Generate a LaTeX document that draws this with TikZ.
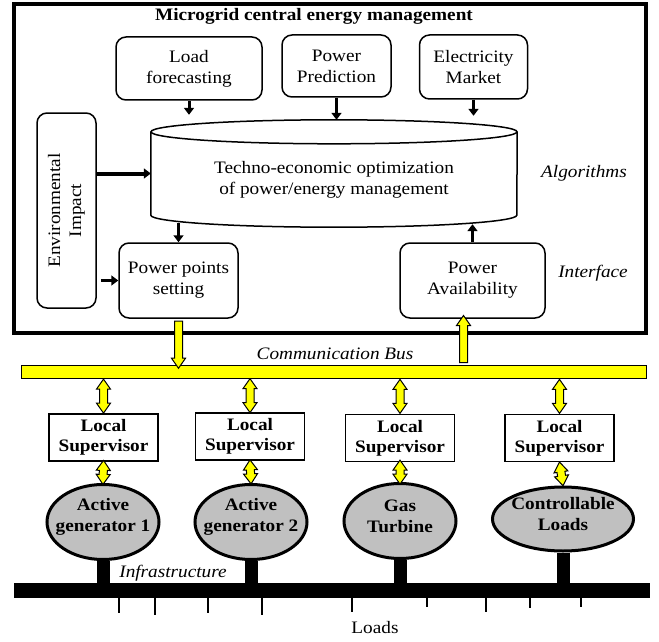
\documentclass[tikz,border=0pt]{standalone}
\usepackage{fontspec}
\setmainfont{Liberation Serif}[FakeStretch=1.1]
\usetikzlibrary{shapes.geometric,shapes.arrows,arrows.meta}
\definecolor{busyellow}{RGB}{255,255,0}
\definecolor{gengray}{RGB}{192,192,192}
\newcommand{\fs}{\fontsize{17.5}{21}\selectfont}
\tikzset{
  blk/.style={draw, line width=1.5pt, rounded corners=10pt, align=center, font=\fs},
  sup/.style={draw, line width=1.5pt, align=center, font=\fontsize{17.5}{20}\selectfont\bfseries,
    minimum width=109pt, minimum height=47pt, inner sep=0pt},
  gen/.style={ellipse, draw, line width=3pt, fill=gengray, minimum width=112pt,
    minimum height=75pt, inner sep=0pt},
  genlbl/.style={align=center, yshift=5pt, font=\fs\bfseries},
  lbl/.style={font=\fs\itshape},
  arr/.style={line width=3pt, -{Triangle[length=7pt,width=10pt]}},
  yarr/.style={single arrow, draw, fill=busyellow, line width=1pt, inner sep=3.5pt,
    single arrow head extend=3pt, single arrow tip angle=70, sloped},
  ydbl/.style={double arrow, draw, fill=busyellow, line width=1pt, inner sep=3.5pt,
    double arrow head extend=3pt, double arrow tip angle=70, sloped},
  stem/.style={line width=13pt},
}
\begin{document}
\begin{tikzpicture}[x=1pt, y=-1pt]
\useasboundingbox (0,0) rectangle (659,642);
% central energy management
\node[draw, line width=4pt, minimum width=632pt, minimum height=329pt] (ems) at (330,168.5) {};
\node[font=\fs\bfseries] (title) at (314,16) {Microgrid central energy management};
\node[blk, minimum width=146pt, minimum height=63pt] (lf) at (189,68.5) {Load\\forecasting};
\node[blk, minimum width=109pt, minimum height=62pt] (pp) at (336.5,66) {Power\\Prediction};
\node[blk, minimum width=108pt, minimum height=64pt] (em) at (473.5,67) {Electricity\\Market};
\node[blk, rotate=90, minimum width=195pt, minimum height=59pt] (env) at (66.5,210.5) {Environmental\\Impact};
\node[blk, minimum width=119pt, minimum height=75pt] (pps) at (178.5,280.5) {Power points\\setting};
\node[blk, minimum width=145pt, minimum height=75pt] (pa) at (472.5,280.5) {Power\\Availability};
\node[lbl] (algo) at (584,173) {Algorithms};
\node[lbl] (intf) at (593,273) {Interface};

% optimization cylinder
\node[minimum width=366pt, minimum height=107pt, inner sep=0pt,
  label={[align=center, yshift=-6pt, font=\fs]center:Techno-economic optimization\\of power/energy management}] (opt) at (334,173.5) {};
\draw[line width=1.5pt] ([yshift=-12pt]opt.north) ellipse [x radius=183, y radius=12];
\draw[line width=1.5pt] ([yshift=-12pt]opt.north west) -- ([yshift=12pt]opt.south west)
  arc[start angle=180, end angle=0, x radius=183, y radius=12] -- ([yshift=-12pt]opt.north east);

\draw[arr, shorten >=5pt] (lf.south) -- (lf.south |- opt.north);
\draw[arr] (pp.south) -- (pp.south |- opt.north);
\draw[arr, shorten >=4pt] (em.south) -- (em.south |- opt.north);
\draw[arr, line width=4pt] (env.south |- opt) -- (opt.west);
\draw[arr, shorten <=4pt] (env.south |- pps) -- (pps.west);
\draw[arr, shorten <=-4pt] (pps.north |- opt.south) -- (pps.north);
\draw[arr, shorten >=-3pt] (pa.north) -- (pa.north |- opt.south);

% communication bus
\node[draw, line width=1pt, fill=busyellow, minimum width=625pt, minimum height=13pt, inner sep=0pt] (bus) at (333.5,372) {};
\node[lbl] (cbus) at (335,354) {Communication Bus};
\coordinate (pain) at ([xshift=-9pt]pa.south);
\path (pps.south) -- node[yarr, minimum height=47pt] (down) {} (pps.south |- bus.north);
\path (bus.north -| pain) -- node[yarr, minimum height=47pt] (up) {} (pain);

% local supervisors and units
\node[sup] (ls1) at (103.5,437.5) {Local\\Supervisor};
\node[sup] (ls2) at (250,436.5) {Local\\Supervisor};
\node[sup] (ls3) at (400,438) {Local\\Supervisor};
\node[sup] (ls4) at (559.5,438) {Local\\Supervisor};
\node[gen, label={[genlbl]center:Active\\generator 1}] (gen1) at (103,522) {};
\node[gen, label={[genlbl]center:Active\\generator 2}] (gen2) at (251,522) {};
\node[gen, label={[genlbl]center:Gas\\Turbine}] (gen3) at (400,521) {};
\node[gen, minimum width=141pt, minimum height=64pt, label={[genlbl]center:Controllable\\Loads}] (gen4) at (563,519) {};

% infrastructure
\node[fill, minimum width=636pt, minimum height=15pt, inner sep=0pt] (bar) at (332,590.5) {};
\node[lbl] (infra) at (173,573) {Infrastructure};
\foreach \i in {1,...,4} {
  \path (bus.south -| ls\i) -- node[ydbl, minimum height=34pt] (ab\i) {} (ls\i.north);
  \path (ls\i.south) -- node[ydbl, minimum height=24pt] (ag\i) {} (gen\i.north);
  \draw[stem] (gen\i.south) -- (gen\i.south |- bar.north);
}
\foreach \x/\l in {119/15, 155/17, 208/15, 262/17, 352/14, 427/9, 486/14, 530/10, 581/9}
  \draw[line width=1.2pt] (bar.south -| \x,0) -- ++(0,\l);
\node[font=\fs] (loads) at (375,628) {Loads};
\end{tikzpicture}
\end{document}
